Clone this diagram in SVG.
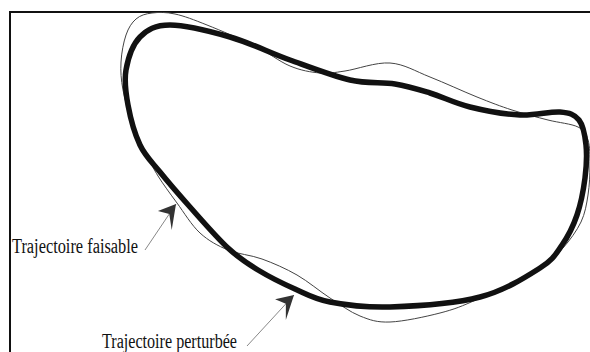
<svg xmlns="http://www.w3.org/2000/svg" width="590" height="352" viewBox="0 0 590 352">
<style>
.frame{fill:none;stroke:#111;stroke-width:2}
.perturbed{fill:none;stroke:#444;stroke-width:1}
.feasible{fill:none;stroke:#111;stroke-width:5.5;stroke-linejoin:round}
.lead{stroke:#888;stroke-width:1;fill:none}
.lbl{font-family:"Liberation Serif","Times New Roman",serif;font-size:20px;fill:#111}
</style>
<defs>
<marker id="ah" viewBox="-26 -13 28 26" markerWidth="28" markerHeight="26" refX="0" refY="0" orient="auto" markerUnits="userSpaceOnUse">
<path d="M0,0 L-16,-11 L-12,0 L-24,11 Z" fill="#333"/>
</marker>
</defs>
<rect width="590" height="352" fill="#fff"/>
<g id="frame">
<path class="frame" d="M10,352 V12 H590"/>
</g>
<g id="trajectoire-perturbee">
<path class="perturbed" d="M152,13 C158.5,12.2 165.8,12 175,14 S193.7,19.7 207,25 S241.2,39.2 255,46 S279.2,61.5 290,66 S310.8,72.2 320,73 S333.3,72.7 345,71 S375.8,62 390,63 S415.5,71.3 430,77 S463.3,91.5 477,97 S500.2,106.2 512,110 S537,117.2 548,120 S571.3,123.7 578,127 S586,133.7 588,140 S590,155.8 590,165 S589.5,185.5 588,195 S585.2,213.2 581,222 S569.8,240.3 563,248 S554.2,259.5 540,268 S494.7,291.5 478,299 S454.7,309.2 440,313 S403.3,321.5 390,322 S370,320 360,316 S340.5,304.8 330,298 S308.3,281.5 297,275 S273.5,263.2 262,259 S238.3,254.3 228,250 S208.5,240.8 200,233 S184,212.5 177,203 S162.8,183.7 158,176 S152.2,165.5 148,157 S137.2,136.2 133,125 S125,100.5 123,90 S120.5,71.2 121,62 S123.5,42.2 126,35 S131.7,22.7 136,19 S145.5,13.8 152,13 Z"/>
</g>
<g id="trajectoire-faisable">
<path class="feasible" d="M170,25 C185,25 210,31.2 230,37 S270,52.8 290,60 S332.5,76 350,80 S381.7,81.8 395,84 S417.5,89.2 430,93 S455,103.3 470,107 S505,114.2 520,115 S550.2,111.2 560,112 S574.7,114.5 579,120 S585,135.3 586,145 S586.5,166.3 585,178 S580.8,203.8 577,215 S568.2,236.2 562,245 S553.7,259.3 540,268 S505,290.5 480,297 S415,306.2 390,307 S345.8,305 330,302 S307,294.3 295,289 S269.2,276.8 258,270 S239.3,258.5 228,248 S201.3,219.7 190,207 S168.3,182.3 160,172 S145.3,156.2 140,145 S130.3,117.5 128,105 S124,81.3 126,70 S132.7,44.5 140,37 S155,25 170,25 Z"/>
</g>
<g id="connectors">
<line class="lead" x1="145" y1="250" x2="176" y2="204" marker-end="url(#ah)"/>
<line class="lead" x1="247" y1="346" x2="294" y2="295" marker-end="url(#ah)"/>
</g>
<g id="label-faisable">
<text class="lbl" x="12" y="253" textLength="126" lengthAdjust="spacingAndGlyphs">Trajectoire faisable</text>
</g>
<g id="label-perturbee">
<text class="lbl" x="102" y="348" textLength="135" lengthAdjust="spacingAndGlyphs">Trajectoire perturbée</text>
</g>
</svg>
